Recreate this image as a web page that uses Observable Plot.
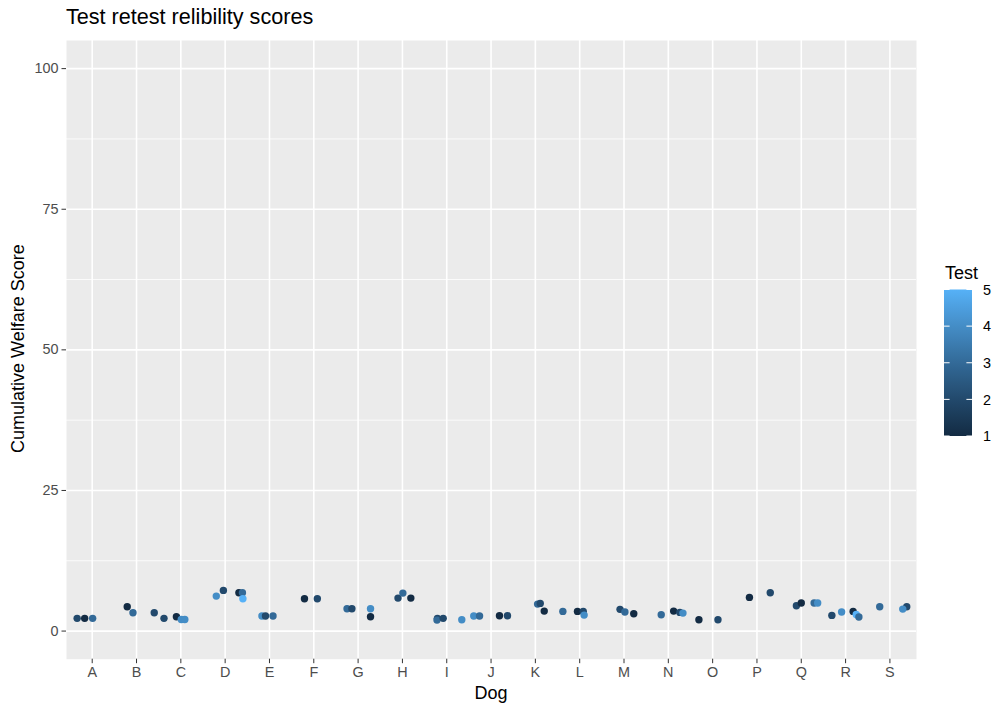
<!DOCTYPE html>
<html>
<head>
<meta charset="utf-8">
<script src="https://cdn.jsdelivr.net/npm/d3@7"></script>
<script src="https://cdn.jsdelivr.net/npm/@observablehq/plot@0.6"></script>
<style>
  body { margin: 0; background: white; }
  #wrap { position: relative; width: 995px; height: 707px; font-family: "Liberation Sans", Arial, Helvetica, sans-serif; }
  .lbl { position: absolute; white-space: nowrap; color: black; line-height: 1; }
</style>
</head>
<body>
<div id="wrap"></div>
<script>
// ---- data ----
const dogs = ["A","B","C","D","E","F","G","H","I","J","K","L","M","N","O","P","Q","R","S"];
const pointDog    = ["A","A","A","B","B","B","C","C","C","C","D","D","D","D","D","E","E","E","F","F","G","G","G","G","H","H","H","I","I","I","I","J","J","J","J","K","K","K","L","L","L","L","M","M","M","N","N","N","N","O","O","P","P","Q","Q","Q","Q","R","R","R","R","R","S","S","S"];
const pointJitter = [-0.34,-0.17,0.01,-0.21,-0.08,0.40,-0.38,-0.10,0.01,0.09,-0.20,-0.04,0.31,0.39,0.40,-0.17,-0.09,0.08,-0.21,0.08,-0.25,-0.14,0.28,0.28,-0.10,0.01,0.19,-0.21,-0.22,-0.08,0.34,-0.39,-0.26,0.19,0.37,0.05,0.11,0.20,-0.38,-0.05,0.08,0.10,-0.09,0.02,0.22,-0.16,0.12,0.26,0.33,-0.31,0.12,-0.17,0.30,-0.11,0.00,0.29,0.37,-0.31,-0.09,0.17,0.24,0.30,-0.23,0.38,0.29];
const pointScore  = [2.26,2.26,2.26,4.32,3.25,3.25,2.26,2.55,2.07,2.07,6.22,7.23,6.81,6.81,5.74,2.67,2.67,2.67,5.74,5.74,3.96,3.96,3.96,2.55,5.86,6.75,5.86,2.26,1.95,2.26,2.01,2.67,2.67,2.72,2.72,4.80,4.92,3.55,3.50,3.50,3.50,2.84,3.86,3.38,3.08,2.90,3.55,3.32,3.20,2.01,2.01,5.99,6.81,4.50,4.98,4.98,4.98,2.79,3.38,3.50,2.96,2.49,4.32,4.32,3.91];
const pointTest   = [2,1,3,1,3,2,2,1,4,4,4,2,1,3,5,4,2,3,1,2,3,2,4,1,2,3,1,2,3,2,4,4,3,1,2,3,2,1,3,1,2,4,2,3,1,3,1,2,4,1,2,1,2,2,1,3,4,2,4,1,5,3,3,2,4];
const yTicks = [0, 25, 50, 75, 100];
const yMinor = [12.5, 37.5, 62.5, 87.5];
const legendTicks = [1, 2, 3, 4, 5];

const points = pointDog.map((d, i) => ({
  pos: dogs.indexOf(d) + 1 + pointJitter[i],
  score: pointScore[i],
  test: pointTest[i]
}));
const dogPos = dogs.map((d, i) => i + 1);

const lowColor = "#132B43", highColor = "#56B1F7";
const font = "'Liberation Sans', Arial, Helvetica, sans-serif";

const chart = Plot.plot({
  width: 995,
  height: 707,
  marginLeft: 66,
  marginRight: 79,
  marginTop: 40,
  marginBottom: 48.3,
  style: { fontFamily: font, background: "white", overflow: "visible" },
  x: { domain: [0.42, 19.6], label: null },
  y: { domain: [-5, 105], label: null },
  color: { type: "linear", domain: [1, 5], range: [lowColor, highColor], interpolate: "lab" },
  marks: [
    Plot.frame({ fill: "#EBEBEB", stroke: "none" }),
    Plot.ruleY(yMinor, { stroke: "white", strokeWidth: 0.8 }),
    Plot.ruleY(yTicks, { stroke: "white", strokeWidth: 1.6 }),
    Plot.ruleX(dogPos, { stroke: "white", strokeWidth: 1.6 }),
    Plot.dot(points, { x: "pos", y: "score", fill: "test", r: 3.7 }),
    Plot.axisX({ ticks: dogPos, tickFormat: (v) => dogs[v - 1], tickSize: 4.5, tickPadding: 3.2,
                 stroke: "#333333", fill: "#4D4D4D", fontSize: 14.4, label: null }),
    Plot.axisY({ ticks: yTicks, tickSize: 4.5, tickPadding: 3.4,
                 stroke: "#333333", fill: "#4D4D4D", fontSize: 14.4, label: null })
  ]
});

const wrap = document.getElementById("wrap");
chart.style.position = "absolute";
chart.style.left = "0px";
chart.style.top = "0px";
wrap.appendChild(chart);

function addLabel(text, left, top, size, extra) {
  const el = document.createElement("div");
  el.className = "lbl";
  el.textContent = text;
  el.style.left = left + "px";
  el.style.top = top + "px";
  el.style.fontSize = size + "px";
  if (extra) Object.assign(el.style, extra);
  wrap.appendChild(el);
  return el;
}

// title
addLabel("Test retest relibility scores", 66, 6, 21.6);
// x axis title
addLabel("Dog", 491, 684, 18, { transform: "translateX(-50%)" });
// y axis title (rotated)
addLabel("Cumulative Welfare Score", 9, 349, 18, { transform: "translate(0, 0) rotate(-90deg)", transformOrigin: "0 0" });

// y title: fix position after layout so it is centred on the panel
(function () {
  const els = wrap.querySelectorAll(".lbl");
  const yl = els[els.length - 1];
  const w = yl.getBoundingClientRect().height; // rotated length
  yl.style.top = (349 + w / 2) + "px";
})();

// legend
addLabel("Test", 945, 264, 18);
const legendSvg = d3.select(wrap).append("svg")
  .attr("width", 60).attr("height", 180)
  .style("position", "absolute").style("left", "935px").style("top", "280px")
  .style("font-family", font);
const grad = legendSvg.append("defs").append("linearGradient")
  .attr("id", "cbar").attr("x1", 0).attr("y1", 1).attr("x2", 0).attr("y2", 0);
const interp = d3.interpolateLab(lowColor, highColor);
d3.range(0, 1.0001, 0.05).forEach(t => {
  grad.append("stop").attr("offset", t).attr("stop-color", interp(t));
});
const bx0 = 9, bx1 = 37, by0 = 9.5, by1 = 156;
legendSvg.append("rect").attr("x", bx0).attr("y", by0).attr("width", bx1 - bx0).attr("height", by1 - by0)
  .attr("fill", "url(#cbar)");
const ly = v => by1 - (v - 1) / 4 * (by1 - by0);
legendTicks.forEach(v => {
  const y = ly(v);
  legendSvg.append("line").attr("x1", bx0).attr("x2", bx0 + 5.6).attr("y1", y).attr("y2", y)
    .attr("stroke", "white").attr("stroke-width", 1);
  legendSvg.append("line").attr("x1", bx1 - 5.6).attr("x2", bx1).attr("y1", y).attr("y2", y)
    .attr("stroke", "white").attr("stroke-width", 1);
  legendSvg.append("text").attr("x", 48).attr("y", y).attr("dy", "0.36em")
    .attr("font-size", 14.4).attr("fill", "black").text(v);
});
</script>
</body>
</html>
